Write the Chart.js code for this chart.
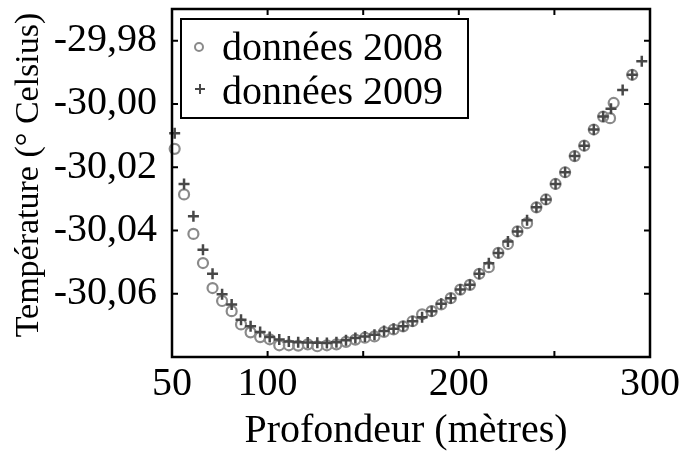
<!DOCTYPE html>
<html>
<head>
<meta charset="utf-8">
<script src="https://cdn.jsdelivr.net/npm/chart.js@4.4.1/dist/chart.umd.min.js"></script>
<style>
  html, body { margin: 0; padding: 0; background: #fff; }
  #wrap { width: 685px; height: 454px; }
</style>
</head>
<body>
<div id="wrap"><canvas id="c" width="685" height="454"></canvas></div>
<script>
// Depth (m) and temperature (°C) profiles
const depth2008 = [51.4, 56.3, 61.2, 66.2, 71.2, 76.2, 81.2, 86.1, 91.1, 96.1,
  101.1, 106.1, 111.1, 116.0, 121.0, 126.0, 131.0, 136.0, 141.0, 145.9,
  150.9, 155.9, 160.9, 165.9, 170.9, 175.8, 180.8, 185.8, 190.8, 195.8,
  200.8, 205.8, 210.7, 215.7, 220.7, 225.7, 230.7, 235.7, 240.6, 245.6,
  250.6, 255.6, 260.6, 265.6, 270.6, 275.5, 279.1, 281.0, 290.7];
const temp2008 = [-30.0142, -30.0286, -30.0411, -30.0503, -30.0582, -30.0623, -30.0655, -30.0697, -30.0722, -30.0737,
  -30.0744, -30.0763, -30.0763, -30.0764, -30.0760, -30.0766, -30.0763, -30.0760, -30.0752, -30.0745,
  -30.0739, -30.0735, -30.0721, -30.0713, -30.0703, -30.0687, -30.0665, -30.0655, -30.0634, -30.0614,
  -30.0587, -30.0572, -30.0537, -30.0516, -30.0471, -30.0443, -30.0403, -30.0377, -30.0327, -30.0302,
  -30.0253, -30.0216, -30.0165, -30.0132, -30.0081, -30.0040, -30.0045, -29.9997, -29.9908];

const depth2009 = [51.4, 56.3, 61.2, 66.2, 71.2, 76.2, 81.2, 86.1, 91.1, 96.1,
  101.1, 106.1, 111.1, 116.0, 121.0, 126.0, 131.0, 136.0, 141.0, 145.9,
  150.9, 155.9, 160.9, 165.9, 170.9, 175.8, 180.8, 185.8, 190.8, 195.8,
  200.8, 205.8, 210.7, 215.7, 220.7, 225.7, 230.7, 235.7, 240.6, 245.6,
  250.6, 255.6, 260.6, 265.6, 270.6, 275.5, 279.6, 285.7, 290.7, 295.7];
const temp2009 = [-30.0093, -30.0253, -30.0355, -30.0461, -30.0537, -30.0602, -30.0634, -30.0682, -30.0703, -30.0721,
  -30.0737, -30.0745, -30.0751, -30.0753, -30.0754, -30.0755, -30.0756, -30.0753, -30.0747, -30.0740,
  -30.0735, -30.0730, -30.0718, -30.0711, -30.0703, -30.0687, -30.0674, -30.0655, -30.0632, -30.0614,
  -30.0587, -30.0572, -30.0537, -30.0504, -30.0471, -30.0435, -30.0403, -30.0368, -30.0327, -30.0302,
  -30.0253, -30.0216, -30.0165, -30.0132, -30.0081, -30.0040, -30.0015, -29.9956, -29.9908, -29.9865];

// Axis ticks
const xTickValues = [50, 100, 150, 200, 250, 300];
const xTickLabels = { 50: '50', 100: '100', 200: '200', 300: '300' };
const yTickValues = [-30.06, -30.04, -30.02, -30.00, -29.98];

const seriesNames = ['données 2008', 'données 2009'];
const xTitle = 'Profondeur (mètres)';
const yTitle = 'Température (° Celsius)';

const SERIF = '"Liberation Serif", "Times New Roman", serif';
const CIRCLE_COLOR = '#8a8a8a';
const CROSS_COLOR = '#474747';

const toPoints = (xs, ys) => xs.map((d, i) => ({ x: d, y: ys[i] }));

// Box frame with inward tick marks on all four sides
const framePlugin = {
  id: 'frame',
  afterDatasetsDraw(chart) {
    const { ctx, chartArea: a, scales: { x, y } } = chart;
    ctx.save();
    ctx.strokeStyle = '#000';
    ctx.lineWidth = 2.5;
    ctx.strokeRect(a.left, a.top, a.right - a.left, a.bottom - a.top);
    ctx.lineWidth = 2;
    const L = 6;
    ctx.beginPath();
    xTickValues.forEach(v => {
      const px = x.getPixelForValue(v);
      ctx.moveTo(px, a.bottom); ctx.lineTo(px, a.bottom - L);
      ctx.moveTo(px, a.top); ctx.lineTo(px, a.top + L);
    });
    yTickValues.forEach(v => {
      const py = y.getPixelForValue(v);
      ctx.moveTo(a.left, py); ctx.lineTo(a.left + L, py);
      ctx.moveTo(a.right, py); ctx.lineTo(a.right - L, py);
    });
    ctx.stroke();
    ctx.restore();
  }
};

// Axis titles
const titlesPlugin = {
  id: 'titles',
  afterDraw(chart) {
    const { ctx } = chart;
    ctx.save();
    ctx.fillStyle = '#000';
    ctx.textAlign = 'center';
    ctx.textBaseline = 'alphabetic';
    ctx.font = '40px ' + SERIF;
    ctx.fillText(xTitle, 406, 442);
    ctx.translate(38, 175);
    ctx.rotate(-Math.PI / 2);
    ctx.font = '34px ' + SERIF;
    ctx.fillText(yTitle, 0, 0);
    ctx.restore();
  }
};

// Boxed legend in the upper-left corner of the plot
const legendPlugin = {
  id: 'boxLegend',
  afterDraw(chart) {
    const { ctx } = chart;
    ctx.save();
    ctx.fillStyle = '#fff';
    ctx.fillRect(181, 19, 287, 99);
    ctx.strokeStyle = '#000';
    ctx.lineWidth = 2;
    ctx.strokeRect(181, 19, 287, 99);

    // circle marker
    ctx.strokeStyle = CIRCLE_COLOR;
    ctx.lineWidth = 2;
    ctx.beginPath();
    ctx.arc(199, 47, 4, 0, Math.PI * 2);
    ctx.stroke();
    // cross marker
    ctx.strokeStyle = CROSS_COLOR;
    ctx.beginPath();
    ctx.moveTo(195, 89); ctx.lineTo(205, 89);
    ctx.moveTo(200, 84); ctx.lineTo(200, 94);
    ctx.stroke();

    ctx.fillStyle = '#000';
    ctx.font = '40px ' + SERIF;
    ctx.textAlign = 'left';
    ctx.textBaseline = 'alphabetic';
    ctx.fillText(seriesNames[0], 222, 60);
    ctx.fillText(seriesNames[1], 222, 104);
    ctx.restore();
  }
};

new Chart(document.getElementById('c'), {
  type: 'scatter',
  data: {
    datasets: [
      {
        label: seriesNames[1],
        data: toPoints(depth2009, temp2009),
        pointStyle: 'cross',
        pointRadius: 5.5,
        pointBorderWidth: 2.5,
        borderColor: CROSS_COLOR,
        backgroundColor: CROSS_COLOR,
        clip: false,
        order: 0
      },
      {
        label: seriesNames[0],
        data: toPoints(depth2008, temp2008),
        pointStyle: 'circle',
        pointRadius: 5,
        pointBorderWidth: 2.2,
        borderColor: CIRCLE_COLOR,
        backgroundColor: 'rgba(0,0,0,0)',
        clip: false,
        order: 1
      }
    ]
  },
  options: {
    responsive: false,
    animation: false,
    devicePixelRatio: 1,
    layout: { padding: { left: 0, right: 35, top: 9, bottom: 0 } },
    plugins: {
      legend: { display: false },
      tooltip: { enabled: false }
    },
    scales: {
      x: {
        type: 'linear',
        min: 50,
        max: 300,
        grid: { display: false, drawTicks: false },
        border: { display: false },
        afterBuildTicks: s => { s.ticks = xTickValues.map(v => ({ value: v })); },
        afterFit: s => { s.height = 97; s.paddingLeft = 0; s.paddingRight = 0; },
        ticks: {
          autoSkip: false,
          maxRotation: 0,
          padding: 3,
          color: '#000',
          font: { family: SERIF, size: 40 },
          callback: v => (xTickLabels[v] !== undefined ? xTickLabels[v] : '')
        }
      },
      y: {
        type: 'linear',
        min: -30.08,
        max: -29.97,
        grid: { display: false, drawTicks: false },
        border: { display: false },
        afterBuildTicks: s => { s.ticks = yTickValues.map(v => ({ value: v })); },
        afterFit: s => { s.width = 172; s.paddingTop = 0; s.paddingBottom = 0; },
        ticks: {
          autoSkip: false,
          padding: 15,
          color: '#000',
          font: { family: SERIF, size: 40 },
          callback: v => v.toFixed(2).replace('.', ',')
        }
      }
    }
  },
  plugins: [framePlugin, titlesPlugin, legendPlugin]
});
</script>
</body>
</html>
